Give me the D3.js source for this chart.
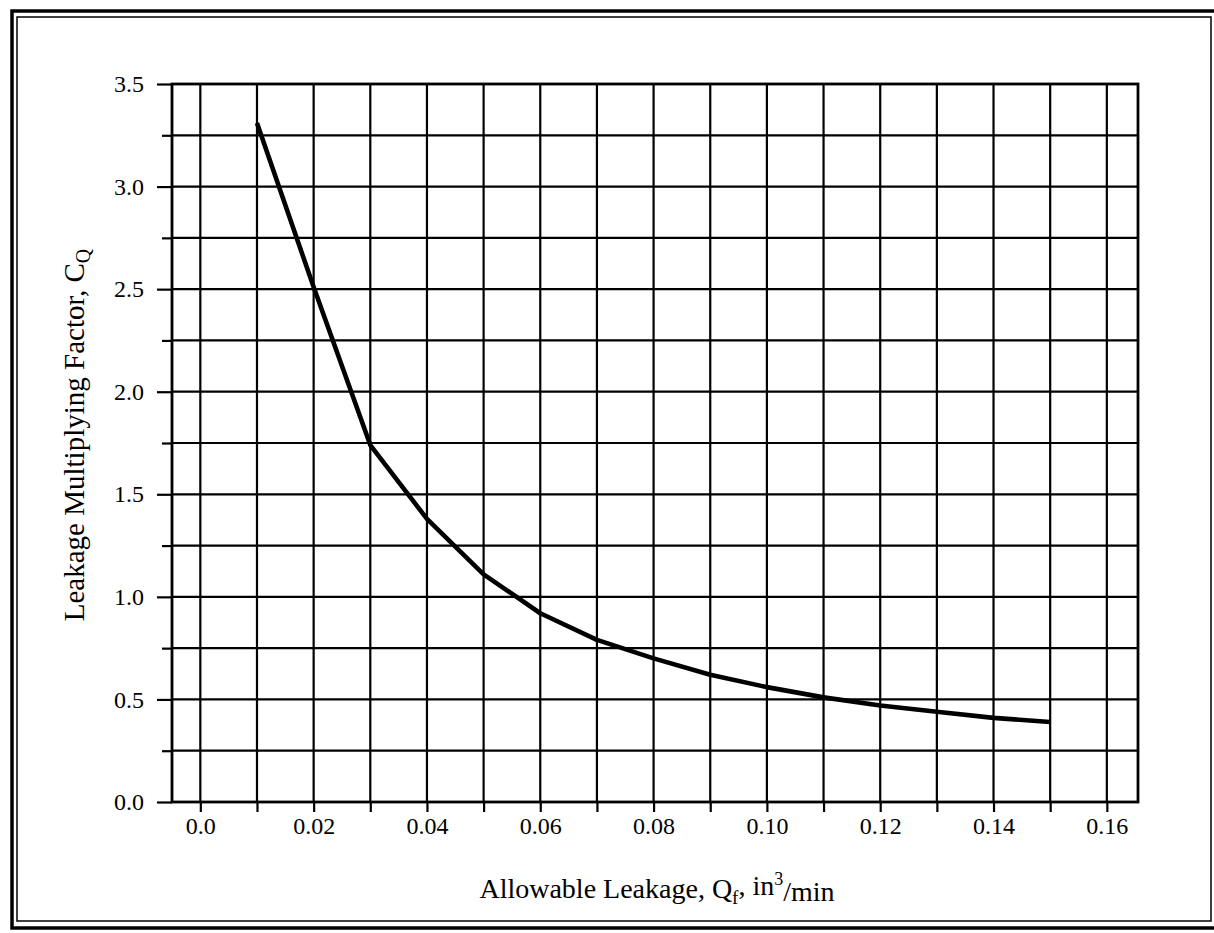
<!DOCTYPE html>
<html>
<head>
<meta charset="utf-8">
<script src="https://cdnjs.cloudflare.com/ajax/libs/d3/7.8.5/d3.min.js"></script>
<style>
    body { margin: 0; background: #fff; }
    svg { display: block; }
    .tick text { font-family: "Liberation Serif", "Times New Roman", serif; font-size: 24px; fill: #000; }
    .axistitle { font-family: "Liberation Serif", "Times New Roman", serif; fill: #000; }
</style>
</head>
<body>
<div id="chart"></div>
<script>

// values
var leakage = [0.01, 0.02, 0.03, 0.04, 0.05, 0.06, 0.07, 0.08, 0.09, 0.10, 0.11, 0.12, 0.13, 0.14, 0.15];
var factor = [3.31, 2.51, 1.74, 1.38, 1.11, 0.92, 0.79, 0.70, 0.62, 0.56, 0.51, 0.47, 0.44, 0.41, 0.39];

var xTicks = [0, 0.02, 0.04, 0.06, 0.08, 0.10, 0.12, 0.14, 0.16];
var xTickLabels = ["0.0", "0.02", "0.04", "0.06", "0.08", "0.10", "0.12", "0.14", "0.16"];
var xGrid = [0, 0.01, 0.02, 0.03, 0.04, 0.05, 0.06, 0.07, 0.08, 0.09, 0.10, 0.11, 0.12, 0.13, 0.14, 0.15, 0.16];
var yTicks = [0, 0.5, 1.0, 1.5, 2.0, 2.5, 3.0, 3.5];
var yTickLabels = ["0.0", "0.5", "1.0", "1.5", "2.0", "2.5", "3.0", "3.5"];
var yMinor = [0.25, 0.75, 1.25, 1.75, 2.25, 2.75, 3.25];

function leakage_chart(div) {

    var width = 1214;
    var height = 933;
    var left = 172, right = 1138, top = 84, bottom = 802;

    var svg = d3.select('#' + div).append('svg')
        .attr('width', width)
        .attr('height', height);

    // double frame round the page
    svg.append('rect')
        .attr('x', 12).attr('y', 11)
        .attr('width', 1204).attr('height', 917)
        .attr('fill', 'none').attr('stroke', '#000').attr('stroke-width', 3.5);
    svg.append('rect')
        .attr('x', 17).attr('y', 17)
        .attr('width', 1194).attr('height', 904)
        .attr('fill', 'none').attr('stroke', '#000').attr('stroke-width', 1.5);

    var xScale = d3.scaleLinear()
        .domain([-0.005, 0.1655])
        .range([left, right]);

    var yScale = d3.scaleLinear()
        .domain([0, 3.5])
        .range([bottom, top]);

    var g = svg.append('g');

    // grid
    g.selectAll('.hgrid')
        .data(yMinor.concat(yTicks))
        .enter().append('line')
        .attr('class', 'hgrid')
        .attr('x1', left).attr('x2', right)
        .attr('y1', function(d) { return yScale(d); })
        .attr('y2', function(d) { return yScale(d); })
        .attr('stroke', '#000').attr('stroke-width', 2.2);

    g.selectAll('.vgrid')
        .data(xGrid)
        .enter().append('line')
        .attr('class', 'vgrid')
        .attr('x1', function(d) { return xScale(d); })
        .attr('x2', function(d) { return xScale(d); })
        .attr('y1', top).attr('y2', bottom)
        .attr('stroke', '#000').attr('stroke-width', 2.2);

    // plot border
    g.append('rect')
        .attr('x', left).attr('y', top)
        .attr('width', right - left).attr('height', bottom - top)
        .attr('fill', 'none').attr('stroke', '#000').attr('stroke-width', 2.8);

    //make the axes
    var yAxis = d3.axisLeft(yScale)
        .tickValues(yTicks)
        .tickSize(15)
        .tickPadding(13)
        .tickFormat(function(d, i) { return yTickLabels[i]; });

    var yMinorAxis = d3.axisLeft(yScale)
        .tickValues(yMinor)
        .tickSize(10)
        .tickFormat('');

    var xAxis = d3.axisBottom(xScale)
        .tickValues(xGrid)
        .tickSize(10)
        .tickPadding(5)
        .tickFormat(function(d) {
            var i = xTicks.findIndex(function(t) { return Math.abs(t - d) < 1e-9; });
            return i < 0 ? '' : xTickLabels[i];
        });

    svg.append('g')
        .attr('transform', 'translate(' + left + ',0)')
        .call(yAxis);
    svg.append('g')
        .attr('transform', 'translate(' + left + ',0)')
        .call(yMinorAxis);
    svg.append('g')
        .attr('transform', 'translate(0,' + bottom + ')')
        .call(xAxis);

    svg.selectAll('.domain').remove();
    svg.selectAll('.tick line')
        .attr('stroke', '#000')
        .attr('stroke-width', 2.2);

    // curve
    var line = d3.line()
        .x(function(d) { return xScale(d[0]); })
        .y(function(d) { return yScale(d[1]); });

    svg.append('path')
        .datum(d3.zip(leakage, factor))
        .attr('d', line)
        .attr('fill', 'none')
        .attr('stroke', '#000')
        .attr('stroke-width', 4.6)
        .attr('stroke-linejoin', 'round');

    // axis titles
    var xt = svg.append('text')
        .attr('class', 'axistitle')
        .attr('x', 657).attr('y', 898)
        .attr('text-anchor', 'middle')
        .attr('font-size', '28px');
    xt.append('tspan').text('Allowable Leakage, Q');
    xt.append('tspan').attr('font-size', '19px').attr('dy', '0.3em').text('f');
    xt.append('tspan').attr('dy', '-0.3em').text(', in');
    xt.append('tspan').attr('font-size', '18px').attr('dy', '-0.55em').text('3');
    xt.append('tspan').attr('dy', '0.55em').text('/min');

    var yt = svg.append('text')
        .attr('class', 'axistitle')
        .attr('transform', 'translate(84,435) rotate(-90)')
        .attr('text-anchor', 'middle')
        .attr('font-size', '29px');
    yt.append('tspan').text('Leakage Multiplying Factor, C');
    yt.append('tspan').attr('font-size', '20px').attr('dy', '0.3em').text('Q');
}

leakage_chart('chart');
</script>
</body>
</html>
